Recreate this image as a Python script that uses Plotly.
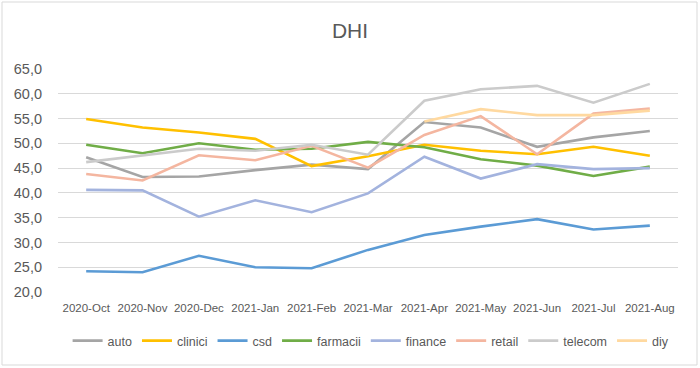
import plotly.graph_objects as go

months = ["2020-Oct", "2020-Nov", "2020-Dec", "2021-Jan", "2021-Feb", "2021-Mar",
          "2021-Apr", "2021-May", "2021-Jun", "2021-Jul", "2021-Aug"]

auto = [47.2, 43.2, 43.3, 44.6, 45.7, 44.8, 54.3, 53.2, 49.3, 51.2, 52.5]
clinici = [54.9, 53.2, 52.2, 50.9, 45.4, 47.4, 49.7, 48.5, 47.8, 49.3, 47.5]
csd = [24.2, 24.0, 27.3, 25.0, 24.8, 28.5, 31.5, 33.2, 34.7, 32.6, 33.4]
farmacii = [49.7, 48.0, 50.0, 48.7, 48.9, 50.3, 49.2, 46.8, 45.5, 43.4, 45.3]
finance = [40.6, 40.5, 35.2, 38.5, 36.1, 39.9, 47.3, 42.9, 45.8, 44.8, 45.0]
retail = [43.8, 42.5, 47.6, 46.6, 49.5, 45.1, 51.7, 55.5, 47.8, 56.0, 57.0]
telecom = [46.2, 47.5, 48.9, 48.5, 49.7, 47.7, 58.6, 60.9, 61.6, 58.2, 62.0]
diy = [None, None, None, None, None, None, 54.4, 56.9, 55.7, 55.7, 56.6]

series = [
    ("auto", auto, "#A5A5A5"),
    ("clinici", clinici, "#FFC000"),
    ("csd", csd, "#5B9BD5"),
    ("farmacii", farmacii, "#70AD47"),
    ("finance", finance, "#A3B3DE"),
    ("retail", retail, "#F4B6A0"),
    ("telecom", telecom, "#CBCBCB"),
    ("diy", diy, "#FFD9A0"),
]

fig = go.Figure()
for name, vals, color in series:
    fig.add_trace(go.Scatter(x=months, y=vals, name=name, mode="lines",
                             line=dict(color=color, width=2.6)))

W, H = 700, 368
L, R, T, B = 58, 22, 69, 76
pw, ph = W - L - R, H - T - B

fig.update_layout(
    width=W, height=H,
    margin=dict(l=L, r=R, t=T, b=B),
    paper_bgcolor="white", plot_bgcolor="white",
    font=dict(family="Liberation Sans, Arial", color="#595959"),
    separators=", ",
    title=dict(text="DHI", x=0.5, xanchor="center", y=1 - 31 / H, yanchor="middle",
               font=dict(size=21, color="#595959", family="Liberation Sans, Arial")),
    xaxis=dict(type="category", range=[-0.5, 10.5], showgrid=False, showline=False,
               ticks="", ticklabelstandoff=7, tickfont=dict(size=11.5, color="#595959")),
    yaxis=dict(range=[20, 65], dtick=5, tickformat=".1f", showgrid=True,
               gridcolor="#D9D9D9", gridwidth=1, zeroline=False, showline=False,
               ticks="", ticklabelstandoff=15, tickfont=dict(size=14.5, color="#595959")),
    legend=dict(orientation="h", x=0.505, xanchor="center", y=-(341 - T - ph) / ph,
                yanchor="middle", font=dict(size=12.5, color="#595959"),
                tracegroupgap=0),
    showlegend=True,
)

fig.add_shape(type="rect", xref="paper", yref="paper",
              x0=-(L - 2) / pw, x1=1 + (R - 3) / pw,
              y0=-(B - 3) / ph, y1=1 + (T - 2) / ph,
              line=dict(color="#D9D9D9", width=1), fillcolor="rgba(0,0,0,0)", layer="below")

fig.write_html("out.html", config={"displayModeBar": False},
               post_script="document.body.style.margin='0';document.body.style.overflow='hidden';")
